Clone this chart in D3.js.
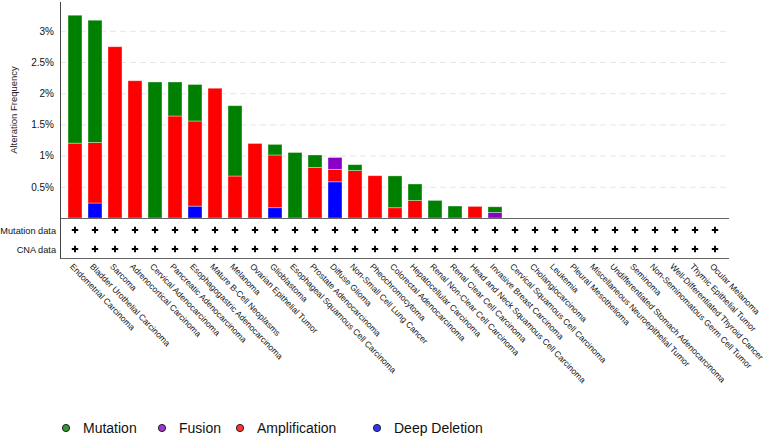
<!DOCTYPE html>
<html>
<head>
<meta charset="utf-8">
<script src="https://cdn.jsdelivr.net/npm/d3@7"></script>
<style>
  body { margin: 0; background: #fff; }
  svg { font-family: "Liberation Sans", Arial, sans-serif; }
</style>
</head>
<body>
<div id="wrapper"></div>
<script>
// cancer types, in the order shown
const categories = ['Endometrial Carcinoma', 'Bladder Urothelial Carcinoma', 'Sarcoma', 'Adrenocortical Carcinoma',
  'Cervical Adenocarcinoma', 'Pancreatic Adenocarcinoma', 'Esophagogastric Adenocarcinoma', 'Mature B-Cell Neoplasms',
  'Melanoma', 'Ovarian Epithelial Tumor', 'Glioblastoma', 'Esophageal Squamous Cell Carcinoma', 'Prostate Adenocarcinoma',
  'Diffuse Glioma', 'Non-Small Cell Lung Cancer', 'Pheochromocytoma', 'Colorectal Adenocarcinoma', 'Hepatocellular Carcinoma',
  'Renal Non-Clear Cell Carcinoma', 'Renal Clear Cell Carcinoma', 'Head and Neck Squamous Cell Carcinoma',
  'Invasive Breast Carcinoma', 'Cervical Squamous Cell Carcinoma', 'Cholangiocarcinoma', 'Leukemia', 'Pleural Mesothelioma',
  'Miscellaneous Neuroepithelial Tumor', 'Undifferentiated Stomach Adenocarcinoma', 'Seminoma',
  'Non-Seminomatous Germ Cell Tumor', 'Well-Differentiated Thyroid Cancer', 'Thymic Epithelial Tumor', 'Ocular Melanoma'];

// alteration frequency in %, per type
const mutation     = [2.05, 1.96, 0, 0, 2.18, 0.545, 0.585, 0, 1.127, 0, 0.17, 1.05, 0.20, 0, 0.095, 0, 0.51, 0.265, 0.282, 0.192, 0, 0.09, 0, 0, 0, 0, 0, 0, 0, 0, 0, 0, 0];
const fusion       = [0, 0, 0, 0, 0, 0, 0, 0, 0, 0, 0, 0, 0, 0.19, 0, 0, 0, 0, 0, 0, 0, 0.09, 0, 0, 0, 0, 0, 0, 0, 0, 0, 0, 0];
const amplification= [1.2, 0.97, 2.745, 2.20, 0, 1.635, 1.365, 2.08, 0.673, 1.195, 0.845, 0, 0.81, 0.20, 0.76, 0.678, 0.165, 0.28, 0, 0, 0.186, 0, 0, 0, 0, 0, 0, 0, 0, 0, 0, 0, 0];
const deepDeletion = [0, 0.24, 0, 0, 0, 0, 0.19, 0, 0, 0, 0.165, 0, 0, 0.58, 0, 0, 0, 0, 0, 0, 0, 0, 0, 0, 0, 0, 0, 0, 0, 0, 0, 0, 0];

const yTicks = [0.5, 1, 1.5, 2, 2.5, 3];
const tableRows = ['Mutation data', 'CNA data'];
const legendNames = ['Mutation', 'Fusion', 'Amplification', 'Deep Deletion'];
const legendColors = ['#008000', '#8B00C9', '#FF0000', '#0000FF'];

let rows = categories.map(function(c, i) {
  return { cat: c, 'Deep Deletion': deepDeletion[i], Amplification: amplification[i], Fusion: fusion[i], Mutation: mutation[i] };
});
// stacked bottom -> top
let keys = ['Deep Deletion', 'Amplification', 'Fusion', 'Mutation'];
let colorScale = d3.scaleOrdinal().domain(legendNames).range(legendColors);

let svg = d3.select('#wrapper').append('svg')
  .attr('width', 765)
  .attr('height', 438);

let x0 = 60, x1 = 729, baseY = 218;

let xscale = d3.scaleBand()
  .domain(categories)
  .range([65, 725])
  .paddingInner(0.3)
  .paddingOuter(0.15);

let yscale = d3.scaleLinear()
  .domain([0, 3.47])
  .range([baseY, 1.5]);

// grid lines
svg.append('g').selectAll('line')
  .data(yTicks)
  .enter().append('line')
  .attr('x1', x0).attr('x2', x1 + 1)
  .attr('y1', d => yscale(d) + 0.5).attr('y2', d => yscale(d) + 0.5)
  .style('stroke', '#e6e6e6')
  .style('stroke-dasharray', '6,4');

// y axis
let yAxis = d3.axisLeft(yscale)
  .tickValues(yTicks)
  .tickSize(0)
  .tickPadding(6)
  .tickFormat(d => d + '%');
let yg = svg.append('g')
  .attr('transform', 'translate(' + x0 + ',0)')
  .call(yAxis);
yg.select('.domain').remove();
yg.selectAll('text').style('font-size', '10px').style('fill', '#111');

svg.append('text')
  .attr('transform', 'translate(17,110) rotate(-90)')
  .attr('text-anchor', 'middle')
  .style('font-size', '9.5px')
  .style('fill', '#222')
  .text('Alteration Frequency');

// bars
let series = d3.stack().keys(keys)(rows);
svg.append('g').selectAll('g')
  .data(series)
  .enter().append('g')
  .style('fill', d => colorScale(d.key))
  .selectAll('rect')
  .data(d => d.filter(p => p[1] - p[0] > 0))
  .enter().append('rect')
  .attr('x', d => xscale(d.data.cat))
  .attr('width', xscale.bandwidth())
  .attr('y', d => yscale(d[1]))
  .attr('height', d => yscale(d[0]) - yscale(d[1]))
  .style('stroke', '#fff')
  .style('stroke-opacity', 0.45)
  .style('stroke-width', 0.8);

// frame lines
svg.append('line').attr('x1', x0).attr('x2', x1).attr('y1', baseY + 0.5).attr('y2', baseY + 0.5)
  .style('stroke', '#666').style('stroke-width', 1.2);
svg.append('line').attr('x1', x0).attr('x2', x1).attr('y1', 258.5).attr('y2', 258.5)
  .style('stroke', '#666').style('stroke-width', 1.2);
svg.append('line').attr('x1', x0 + 0.5).attr('x2', x0 + 0.5).attr('y1', 2).attr('y2', 259)
  .style('stroke', '#444').style('stroke-width', 1);

// table rows with crosses
let rowY = d3.scalePoint().domain(tableRows).range([230, 249]);
svg.append('g').selectAll('text')
  .data(tableRows)
  .enter().append('text')
  .attr('x', 56)
  .attr('y', d => rowY(d) + 3.5)
  .attr('text-anchor', 'end')
  .style('font-size', '9.2px')
  .style('fill', '#111')
  .text(d => d);

let cells = [];
tableRows.forEach(r => categories.forEach(c => cells.push({ r: r, c: c })));
svg.append('g').selectAll('path')
  .data(cells)
  .enter().append('path')
  .attr('d', function(d) {
    let cx = xscale(d.c) + xscale.bandwidth() / 2, cy = rowY(d.r);
    return 'M' + (cx - 3.2) + ',' + cy + 'H' + (cx + 3.2) + 'M' + cx + ',' + (cy - 3.2) + 'V' + (cy + 3.2);
  })
  .style('stroke', '#000')
  .style('stroke-width', 1.9);

// category labels
svg.append('g').selectAll('text')
  .data(categories)
  .enter().append('text')
  .attr('transform', d => 'translate(' + (xscale(d) + 1.5) + ',267) rotate(46)')
  .style('font-size', '8.5px')
  .style('fill', '#111')
  .text(d => d);

// legend
let legendX = [66, 162, 240, 377];
let legend = svg.append('g').selectAll('g')
  .data(legendNames)
  .enter().append('g')
  .attr('transform', (d, i) => 'translate(' + legendX[i] + ',428)');
legend.append('circle')
  .attr('r', 3.6)
  .style('fill', d => colorScale(d))
  .style('fill-opacity', 0.8)
  .style('stroke', '#222')
  .style('stroke-width', 1);
legend.append('text')
  .attr('x', 17)
  .attr('y', 5)
  .style('font-size', '14px')
  .style('fill', '#111')
  .text(d => d);
</script>
</body>
</html>
